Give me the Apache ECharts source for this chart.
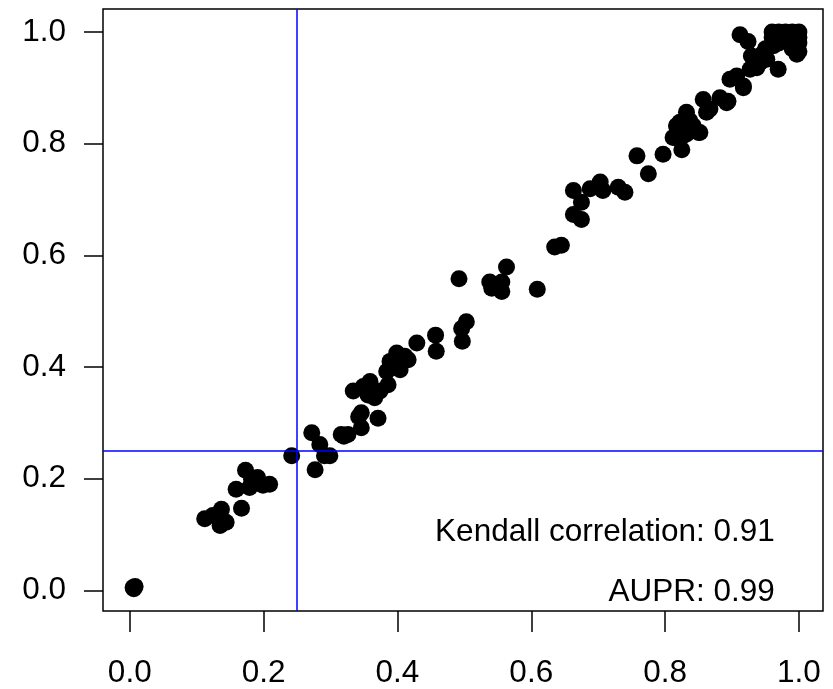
<!DOCTYPE html>
<html>
<head>
<meta charset="utf-8">
<script src="https://cdn.jsdelivr.net/npm/echarts@6/dist/echarts.min.js"></script>
<style>html,body{margin:0;padding:0;background:#fff;}#c{width:833px;height:689px;}</style>
</head>
<body>
<div id="c"></div>
<script>
const xVals = [0.005,0.008,0.006,0.112,0.124,0.135,0.137,0.144,0.159,0.167,0.173,0.179,0.182,0.191,0.199,0.209,
0.242,0.272,0.284,0.291,0.299,0.277,0.316,0.326,0.320,0.346,0.346,0.342,0.371,0.334,0.349,0.359,0.356,0.366,0.374,
0.386,0.384,0.389,0.399,0.404,0.411,0.416,0.429,0.457,0.458,0.503,0.496,0.497,0.492,0.538,0.541,0.556,0.563,0.556,
0.548,0.609,0.635,0.645,0.663,0.675,0.663,0.675,0.688,0.703,0.707,0.730,0.740,0.758,0.775,0.797,0.812,0.825,0.832,
0.815,0.822,0.832,0.842,0.850,0.857,0.867,0.882,0.894,0.897,0.907,0.917,0.927,0.942,0.969,0.827,0.837,0.862,0.912,
0.924,0.997,0.929,0.937,0.952,0.962,0.917,0.892,0.817,0.852,
1.0,0.99,0.98,0.97,0.96,1.0,1.0,0.99,0.98,0.97,0.96,0.99,1.0,0.985,0.95,0.975,0.945];
const yVals = [0.005,0.007,0.003,0.128,0.134,0.116,0.145,0.122,0.181,0.147,0.215,0.184,0.199,0.202,0.188,0.190,
0.241,0.282,0.261,0.241,0.241,0.216,0.279,0.279,0.276,0.291,0.318,0.311,0.308,0.357,0.365,0.374,0.350,0.345,0.357,
0.368,0.392,0.410,0.425,0.395,0.419,0.413,0.443,0.457,0.428,0.481,0.469,0.446,0.558,0.552,0.541,0.552,0.579,0.535,
0.544,0.539,0.615,0.618,0.673,0.664,0.716,0.695,0.719,0.731,0.716,0.722,0.713,0.778,0.746,0.781,0.811,0.789,0.817,
0.811,0.838,0.856,0.832,0.820,0.879,0.862,0.882,0.876,0.915,0.921,0.903,0.933,0.945,0.933,0.814,0.841,0.856,0.995,
0.983,0.960,0.957,0.936,0.951,0.975,0.900,0.873,0.832,0.820,
1.0,1.0,1.0,1.0,1.0,0.99,0.98,0.98,0.99,0.98,0.99,0.97,0.965,0.985,0.97,0.99,0.96];
const tickVals = [0, 0.2, 0.4, 0.6, 0.8, 1.0];
const tickLabels = ['0.0', '0.2', '0.4', '0.6', '0.8', '1.0'];
const refX = 0.25, refY = 0.25;
const annotations = [
  {text: 'Kendall correlation: 0.91', x: 0.964, y: 0.104},
  {text: 'AUPR: 0.99', x: 0.964, y: -0.003}
];

const points = xVals.map((x, i) => [x, yVals[i]]);
const fontFam = '"Liberation Sans", Arial, Helvetica, sans-serif';
const fmt = v => { const i = tickVals.findIndex(t => Math.abs(t - v) < 1e-9); return i >= 0 ? tickLabels[i] : ''; };

const chart = echarts.init(document.getElementById('c'));
chart.setOption({
  animation: false,
  grid: {left: 103, right: 10, top: 9, bottom: 75, show: true, borderColor: '#000', borderWidth: 1.5, backgroundColor: 'transparent'},
  xAxis: {
    type: 'value', min: -0.04, max: 1.036,
    axisLine: {show: false, onZero: false},
    splitLine: {show: false},
    axisTick: {show: true, inside: false, length: 21, customValues: tickVals, lineStyle: {color: '#000', width: 1.5}},
    axisLabel: {show: true, customValues: tickVals, formatter: fmt, margin: 46, fontSize: 31.5, color: '#000', fontFamily: fontFam}
  },
  yAxis: {
    type: 'value', min: -0.037, max: 1.041,
    axisLine: {show: false, onZero: false},
    splitLine: {show: false},
    axisTick: {show: true, inside: false, length: 19, customValues: tickVals, lineStyle: {color: '#000', width: 1.5}},
    axisLabel: {show: true, customValues: tickVals, formatter: fmt, margin: 37, fontSize: 31.5, color: '#000', fontFamily: fontFam}
  },
  series: [{
    type: 'scatter',
    data: points,
    symbol: 'circle',
    symbolSize: 17,
    itemStyle: {color: '#000', opacity: 1},
    silent: true,
    markLine: {
      silent: true,
      symbol: ['none', 'none'],
      label: {show: false},
      lineStyle: {color: '#0000FF', width: 1.5, type: 'solid'},
      data: [{xAxis: refX}, {yAxis: refY}]
    },
    markPoint: {
      silent: true,
      symbol: 'circle',
      symbolSize: 0,
      itemStyle: {color: 'transparent'},
      label: {show: true, position: 'inside', align: 'right', verticalAlign: 'middle', fontSize: 31.5, color: '#000', fontFamily: fontFam, formatter: p => p.name},
      data: annotations.map(a => ({name: a.text, coord: [a.x, a.y]}))
    }
  }]
});
</script>
</body>
</html>
